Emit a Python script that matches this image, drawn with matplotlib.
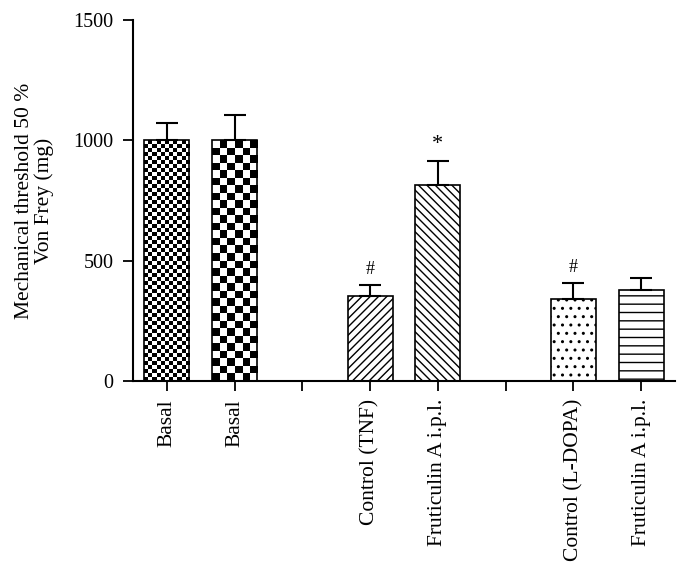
import numpy as np
import matplotlib
matplotlib.use('Agg')
import matplotlib.pyplot as plt

plt.rcParams['font.family'] = ['Liberation Serif', 'DejaVu Serif']
plt.rcParams['hatch.linewidth'] = 1.0

tick_labels = ['Basal', 'Basal', '', 'Control (TNF)', 'Fruticulin A i.p.l.', '',
               'Control (L-DOPA)', 'Fruticulin A i.p.l.']
positions = [0, 1, 3, 4, 6, 7]
means = [1000, 1000, 352, 814, 339, 379]
sems = [70, 106, 47, 101, 68, 49]
marks = ['', '', '#', '*', '#', '']
mark_sizes = [13, 13, 13, 16, 13, 13]
hatches = [None, None, '////', '\\\\\\\\', '..', '--']
checker_px = [4.0, 7.5, None, None, None, None]

fig = plt.figure(figsize=(6.88, 5.81), dpi=100)
ax = fig.add_axes([133/688, 1 - 381/581, (675-133)/688, (381-20)/581])

bars = ax.bar(positions, means, width=0.667, color='white', edgecolor='black',
              linewidth=1.2, zorder=2)
for b, h in zip(bars, hatches):
    if h:
        b.set_hatch(h)

ax.set_xlim(-0.5, 7.5)
ax.set_ylim(0, 1500)

# checkerboard fills
for b, sq in zip(bars, checker_px):
    if sq is None:
        continue
    b.set_facecolor('none')
    x0, w, h = b.get_x(), b.get_width(), b.get_height()
    p0 = ax.transData.transform((x0, 0))
    p1 = ax.transData.transform((x0 + w, h))
    nx = max(1, int(round((p1[0] - p0[0]) / sq)))
    ny = max(1, int(round((p1[1] - p0[1]) / sq)))
    img = np.add.outer(np.arange(ny), np.arange(nx)) % 2
    im = ax.imshow(img, cmap='gray', extent=(x0, x0 + w, 0, h), origin='lower',
                   interpolation='nearest', aspect='auto', zorder=1)
    im.set_clip_path(b)

ax.errorbar(positions, means, yerr=[np.zeros(len(sems)), sems], fmt='none',
            ecolor='black', elinewidth=1.5, capsize=8, capthick=1.5, zorder=3)

for p, m, s, mk, fs in zip(positions, means, sems, marks, mark_sizes):
    if mk:
        ax.annotate(mk, (p, m + s), xytext=(0, 5), textcoords='offset points',
                    ha='center', va='bottom', fontsize=fs)

ax.set_xlim(-0.5, 7.5)
ax.set_ylim(0, 1500)
ax.set_xticks(range(len(tick_labels)))
ax.set_xticklabels(tick_labels, rotation=90, fontsize=15.5)
ax.set_yticks([0, 500, 1000, 1500])
ax.tick_params(axis='both', direction='out', length=7, width=1.3)
ax.tick_params(axis='x', labelsize=15.5, pad=6)
ax.tick_params(axis='y', labelsize=14.5, pad=7)
for sp in ['top', 'right']:
    ax.spines[sp].set_visible(False)
for sp in ['left', 'bottom']:
    ax.spines[sp].set_linewidth(1.5)

ax.set_ylabel('Mechanical threshold 50 %\nVon Frey (mg)', fontsize=15.5, linespacing=1.0)
ax.yaxis.set_label_coords(-0.146, 0.5)

fig.savefig('out.png', dpi=100)
